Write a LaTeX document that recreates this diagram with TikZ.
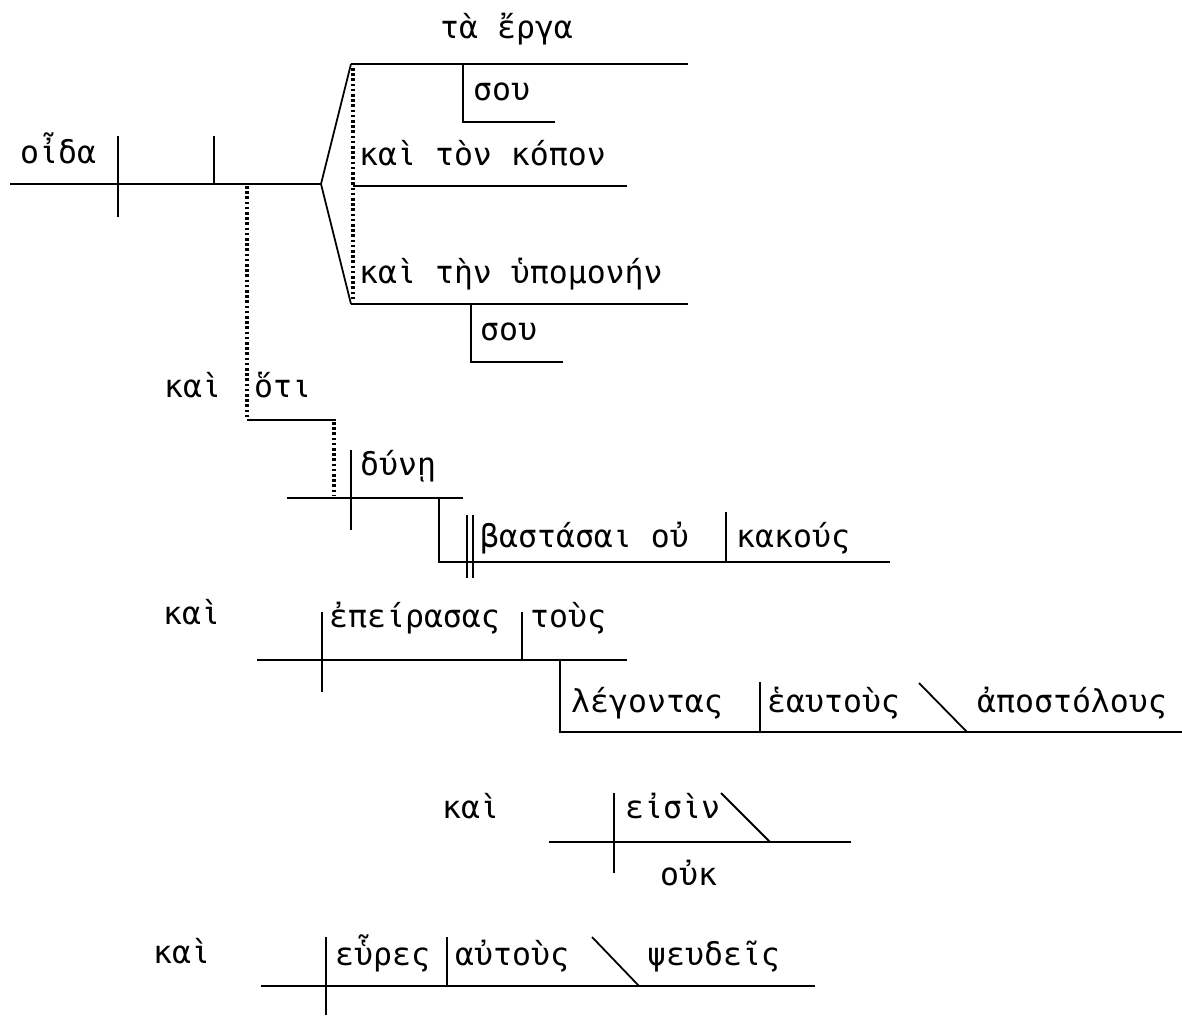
\documentclass[tikz,border=0pt]{standalone}
\usepackage{fontspec}
\newfontfamily\grk{DejaVu Sans Mono}
\tikzset{ln/.style = {line width=1.8pt}}
\tikzset{ladder/.style = {line width=3.2pt, dash pattern=on 2.6pt off 2.6pt}}
\tikzset{wd/.style = {anchor=base west, inner sep=0, font=\grk\fontsize{31.5}{36}\selectfont}}

\begin{document}
\begin{tikzpicture}[x=1pt,y=-1pt]
\useasboundingbox (0,0) rectangle (1182,1015);
% main clause
\draw [ln] (10,184) -- (321,184);
\draw [ln] (118,136) -- (118,217);
\draw [ln] (214,136) -- (214,184);
\draw [ln] (351,64) -- (321,184) -- (351,304);
\draw [ln] (351,64) -- (688,64);
\draw [ln] (353,186) -- (627,186);
\draw [ln] (351,304) -- (688,304);
\draw [ln] (463,64) -- (463,122) -- (555,122);
\draw [ln] (471,304) -- (471,362) -- (563,362);
\draw [ladder] (353,68) -- (353,300);
\node [wd] (oida) at (20,163) {οἶδα};
\node [wd] (erga) at (440,38) {τὰ ἔργα};
\node [wd] (sou1) at (473,100) {σου};
\node [wd] (kopon) at (359,165) {καὶ τὸν κόπον};
\node [wd] (hypomone) at (359,283) {καὶ τὴν ὑπομονήν};
\node [wd] (sou2) at (480,340) {σου};
% hoti clause
\draw [ladder] (247,186) -- (247,418);
\draw [ln] (247,420) -- (336,420);
\draw [ladder] (334,422) -- (334,496);
\draw [ln] (287,498) -- (463,498);
\draw [ln] (351,450) -- (351,530);
\draw [ln] (439,498) -- (439,562) -- (890,562);
\draw [ln] (467,515) -- (467,578);
\draw [ln] (473,515) -- (473,578);
\draw [ln] (726,512) -- (726,562);
\node [wd] (kai1) at (164,397) {καὶ};
\node [wd] (hoti) at (254,397) {ὅτι};
\node [wd] (dyne) at (360,475) {δύνῃ};
\node [wd] (bastasai) at (480,547) {βαστάσαι οὐ};
\node [wd] (kakous) at (736,547) {κακούς};
% epeirasas
\draw [ln] (257,660) -- (627,660);
\draw [ln] (322,612) -- (322,692);
\draw [ln] (522,612) -- (522,660);
\draw [ln] (560,660) -- (560,732) -- (1182,732);
\draw [ln] (760,682) -- (760,732);
\draw [ln] (919,683) -- (967,732);
\node [wd] (kai2) at (163,624) {καὶ};
\node [wd] (epeirasas) at (329,627) {ἐπείρασας};
\node [wd] (tous) at (530,627) {τοὺς};
\node [wd] (legontas) at (571,712) {λέγοντας};
\node [wd] (heautous) at (767,712) {ἑαυτοὺς};
\node [wd] (apostolous) at (977,712) {ἀποστόλους};
% eisin
\draw [ln] (549,842) -- (851,842);
\draw [ln] (614,793) -- (614,873);
\draw [ln] (721,793) -- (770,842);
\node [wd] (kai3) at (442,818) {καὶ};
\node [wd] (eisin) at (625,818) {εἰσὶν};
\node [wd] (ouk) at (660,885) {οὐκ};
% heures
\draw [ln] (261,986) -- (815,986);
\draw [ln] (326,937) -- (326,1015);
\draw [ln] (447,937) -- (447,986);
\draw [ln] (592,937) -- (639,986);
\node [wd] (kai4) at (153,963) {καὶ};
\node [wd] (heures) at (335,965) {εὗρες};
\node [wd] (autous) at (455,965) {αὐτοὺς};
\node [wd] (pseudeis) at (647,965) {ψευδεῖς};
\end{tikzpicture}
\end{document}
